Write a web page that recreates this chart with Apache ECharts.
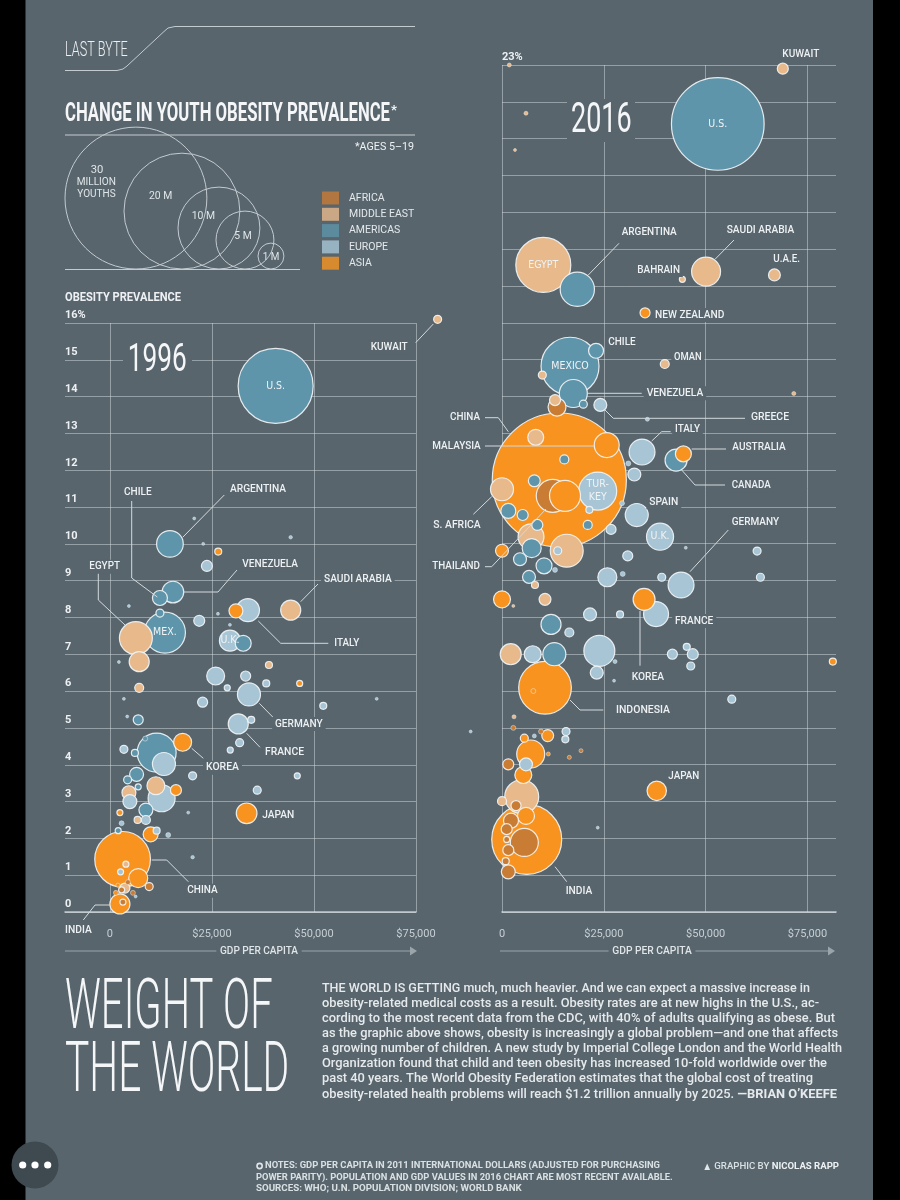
<!DOCTYPE html>
<html><head><meta charset="utf-8">
<script src="https://cdn.jsdelivr.net/npm/echarts@6/dist/echarts.min.js"></script>
<style>html,body{margin:0;padding:0;background:#58656d}#c{width:900px;height:1200px}</style>
</head><body><div id="c"></div>
<script>
// ---------- DATA ----------
const regionNames = ['AFRICA', 'MIDDLE EAST', 'AMERICAS', 'EUROPE', 'ASIA'];
const regionColors = ['#c97c34', '#e7b98b', '#5f95aa', '#a7c5d5', '#f7931e'];
const gdpTickValues = [0, 25000, 50000, 75000];
const sizeKeyValues = [30, 20, 10, 5, 1];

// [GDP per capita, obesity prevalence %, obese youths (millions), inner label]
const africa1996 = [[9630,0.69,0.095],[4410,0.81,0.037],[3190,0.27,0.054],[2870,0.60,0.054],[5640,0.52,0.037]];
const middleEast1996 = [[80300,16.10,0.095],[44300,8.20,0.60],[6370,7.44,1.62],[7180,6.80,0.60],[38970,6.71,0.073],[7180,6.09,0.12],[11270,3.43,0.48],[4660,3.24,0.29],[6790,2.50,0.073],[3920,1.30,0.054],[3680,0.65,0.15]];
const americas1996 = [[40610,14.29,8.39,'U.S.'],[14710,10.00,1.06],[15440,8.69,0.70],[12260,8.53,0.335],[13480,7.59,2.51,'MEX.'],[12260,8.12,0.095],[32670,7.30,0.38],[11450,4.33,2.27],[6940,5.22,0.15],[6130,4.32,0.073],[6540,3.74,0.29],[4340,3.59,0.095],[6940,3.40,0.054],[8820,2.77,0.29],[2030,2.21,0.054],[8650,4.71,0.037]];
const europe1996 = [[20660,10.69,0.013],[22870,10.00,0.013],[23770,9.40,0.18],[44290,10.18,0.018],[4660,8.31,0.013],[21890,7.91,0.18],[26470,8.10,0.013],[33820,8.20,0.79],[29410,7.80,0.013],[29410,7.37,0.66,'U.K.'],[2210,6.79,0.013],[25910,6.41,0.48],[33260,6.41,0.15],[28750,6.09,0.054],[38310,6.21,0.073],[34070,5.91,0.79],[3430,5.79,0.013],[22720,5.70,0.15],[65370,5.79,0.013],[52280,5.60,0.073],[4240,5.31,0.013],[31450,5.11,0.60],[34630,5.22,0.073],[31790,4.60,0.095],[29490,4.40,0.054],[13240,4.02,0.79],[3430,4.42,0.095],[20270,3.70,0.095],[45910,3.70,0.054],[12670,3.09,1.09],[4900,3.00,0.29],[36100,3.31,0.095],[19190,2.70,0.013],[8820,2.50,0.12],[2870,2.41,0.037],[11450,2.21,0.073],[14290,2.09,0.037],[20270,1.49,0.018],[2620,1.09,0.054],[6300,0.42,0.013]];
const asia1996 = [[26540,9.79,0.073],[30880,8.18,0.29],[46500,6.21,0.054],[17820,4.61,0.48],[16180,3.31,0.18],[33500,2.68,0.64],[2450,2.70,0.054],[9980,2.11,0.335],[3110,1.43,4.62],[6940,0.92,0.54],[2450,0.22,0.60],[1470,0.52,0.037],[1960,0.73,0.024]];

const africa2016 = [[13510,13.71,0.48],[12450,11.30,1.62],[2780,5.00,0.037],[9580,4.90,0.037],[19400,4.38,0.024],[16530,4.20,0.024],[1550,4.01,0.18],[3440,2.89,0.15],[2210,2.48,0.335],[5480,1.89,1.17],[1150,2.25,0.18],[1150,1.97,0.054],[1550,1.68,0.18],[910,1.38,0.073],[1550,1.09,0.29]];
const middleEast2016 = [[1790,23.0,0.024],[68940,22.9,0.18],[5890,21.69,0.024],[3190,20.69,0.013],[10140,17.57,4.51,'EGYPT'],[44280,17.18,0.054],[50100,17.39,1.25],[66880,17.30,0.21],[39960,14.88,0.12],[71640,14.08,0.024],[9900,14.58,0.095],[13020,13.90,0.18],[8280,12.89,0.38],[0,11.48,0.79],[7120,10.19,1.0],[15890,9.81,1.62],[8100,8.88,0.073],[10560,8.49,0.21],[2140,7.00,0.66],[2950,5.30,0.024],[4840,3.13,1.72],[0,3.01,0.12],[2780,8.31,0.013]];
const americas2016 = [[52980,21.40,12.8,'U.S.'],[18490,16.91,1.75],[23090,15.24,0.335],[16700,14.82,5.01,'MEXICO'],[17510,14.08,1.17],[19970,13.79,0.095],[42730,12.27,0.72],[15300,12.29,0.12],[7930,11.71,0.21],[1550,10.89,0.335],[5080,10.78,0.18],[8670,10.51,0.18],[21050,10.51,0.12],[7290,9.88,0.54],[4420,9.58,0.25],[10320,9.40,0.38],[6630,9.10,0.25],[12030,7.81,0.60],[12850,7.00,0.79]];
const europe2016 = [[24140,13.77,0.25],[35690,13.38,0.024],[34380,12.49,1.0],[31020,12.18,0.037],[32490,11.88,0.25],[23500,11.43,2.15,'TUR-\nKEY'],[29470,11.10,0.037],[33080,10.78,0.79],[26770,10.39,0.15],[38800,10.19,1.09,'U.K.'],[21440,10.92,0.073],[13680,9.81,0.095],[13020,9.29,0.037],[30870,9.67,0.15],[29640,9.18,0.037],[25860,9.09,0.54],[39220,9.09,0.095],[43960,8.88,1.0],[45120,9.89,0.013],[62630,9.80,0.095],[63440,9.09,0.095],[37820,8.09,0.93],[21610,8.08,0.25],[28980,8.08,0.073],[16530,7.59,0.12],[7540,7.00,0.43],[23900,7.09,1.43],[27750,6.80,0.024],[23260,6.50,0.25],[27510,6.28,0.013],[41830,7.00,0.15],[45360,7.20,0.073],[46840,7.00,0.18],[46340,6.68,0.095],[56410,5.78,0.095],[-7690,4.90,0.013],[15720,4.90,0.095],[15550,4.69,0.073],[5890,4.01,0.25],[23500,2.29,0.013],[7940,4.78,0.024]];
const asia2016 = [[35120,16.27,0.15],[14070,11.73,26.8],[25710,12.68,0.93],[44530,12.44,0.38],[15470,11.30,1.43],[0,9.81,0.25],[0,8.49,0.43],[34880,8.49,0.72],[81220,6.80,0.073],[10560,6.09,4.14],[7690,6.00,0.037],[5480,4.72,0.095],[11220,4.79,0.21],[7050,4.29,1.17],[11370,4.29,0.024],[5230,3.72,0.43],[37990,3.29,0.56],[5890,2.61,0.43],[6070,1.97,7.30]];

const bodyLines = [
 'THE WORLD IS GETTING much, much heavier. And we can expect a massive increase in',
 'obesity-related medical costs as a result. Obesity rates are at new highs in the U.S., ac-',
 'cording to the most recent data from the CDC, with 40% of adults qualifying as obese. But',
 'as the graphic above shows, obesity is increasingly a global problem\u2014and one that affects',
 'a growing number of children. A new study by Imperial College London and the World Health',
 'Organization found that child and teen obesity has increased 10-fold worldwide over the',
 'past 40 years. The World Obesity Federation estimates that the global cost of treating',
 'obesity-related health problems will reach $1.2 trillion annually by 2025. '
];
const bodyByline = '\u2014BRIAN O\u2019KEEFE';

// ---------- LAYOUT / HELPERS ----------
const BG = '#58656d';
const GRID = 'rgba(222,230,234,0.45)';
const SIZE_K = 25.9; // px diameter per sqrt(million)
const mctx = document.createElement('canvas').getContext('2d');
function tw(s, size, weight, fam) { mctx.font = weight + ' ' + size + 'px ' + fam; return mctx.measureText(s).width; }
function fit(s, x1, x2, yc, o) {
  o = o || {};
  const size = o.size || 10.5, weight = o.weight || 500, fam = o.family || 'Roboto';
  const sx = (x2 - x1) / tw(s, size, weight, fam);
  const pad = o.bg ? (o.pad || [1.5, 3]) : null;
  return {type: 'text', x: x1 - (pad ? pad[1] * sx : 0), y: yc, scaleX: sx, z: o.z || 60, silent: true,
    style: {text: s, fontSize: size, fontWeight: weight, fontFamily: fam, fill: o.fill || '#eef1f3',
      align: 'left', verticalAlign: 'middle', backgroundColor: o.bg || null, padding: pad || 0}};
}
function line(pts, o) {
  o = o || {};
  return {type: 'polyline', z: o.z || 55, silent: true, shape: {points: pts},
    style: {stroke: o.stroke || '#d3dadd', lineWidth: o.lw || 1, fill: null}};
}

function build(regions) {
  const items = [];
  regions.forEach(([arr, ci]) => arr.forEach(p => {
    const d = SIZE_K * Math.sqrt(p[2]);
    const it = {value: [p[0], p[1], p[2]], itemStyle: {color: regionColors[ci], borderWidth: d < 6 ? 0.5 : 1.2}};
    if (p[3]) it.label = {show: true, formatter: p[3]};
    items.push(it);
  }));
  items.sort((a, b) => b.value[2] - a.value[2]);
  return items;
}
const data1996 = build([[africa1996,0],[middleEast1996,1],[americas1996,2],[europe1996,3],[asia1996,4]]);
const data2016 = build([[africa2016,0],[middleEast2016,1],[americas2016,2],[europe2016,3],[asia2016,4]]);

const gdpFmt = v => v === 0 ? '0' : '$' + v.toLocaleString('en-US');
const axisX = (gi, min, max) => ({
  gridIndex: gi, type: 'value', min: min, max: max,
  splitLine: {show: false}, axisTick: {show: false},
  axisLine: {show: true, lineStyle: {color: 'rgba(225,232,236,0.75)', width: 1.6}},
  axisLabel: {customValues: gdpTickValues, formatter: gdpFmt, color: '#c6cfd4', fontSize: 11, fontFamily: 'Roboto', margin: 17}
});
const axisY = (gi, max, fmt) => ({
  gridIndex: gi, type: 'value', min: 0, max: max, interval: 1,
  splitLine: {show: true, lineStyle: {color: GRID, width: 1}},
  axisLine: {show: false}, axisTick: {show: false},
  axisLabel: {inside: true, margin: 0, verticalAlign: 'bottom', formatter: fmt, color: '#eef1f3',
    fontWeight: 'bold', fontSize: 11, fontFamily: 'Roboto', padding: [0, 0, 2, 0]}
});
const bubbleSeries = (gi, data) => ({
  type: 'scatter', xAxisIndex: gi, yAxisIndex: gi, data: data, clip: false, z: 3,
  symbolSize: v => Math.max(2.5, SIZE_K * Math.sqrt(v[2])),
  itemStyle: {borderColor: 'rgba(240,244,246,0.92)', opacity: 1},
  label: {show: false, position: 'inside', color: '#f0f3f5', fontSize: 10.5, fontWeight: 500,
    fontFamily: "'Liberation Sans Narrow','DejaVu Sans Condensed',Roboto,sans-serif", lineHeight: 13},
  emphasis: {disabled: true},
  markLine: {silent: true, z: 1, symbol: ['none', 'none'], label: {show: false}, animation: false,
    lineStyle: {type: 'solid', color: GRID, width: 1}, emphasis: {disabled: true},
    data: gdpTickValues.map(v => ({xAxis: v}))}
});

// ---------- GRAPHIC ----------
const g = [];
// header
g.push(line([[65,70.5],[117,70.5],[123,69],[127,66],[164,31.5],[168,28],[175,26.5],[415,26.5]], {stroke:'#c3cbd0'}));
g.push(fit('LAST BYTE', 65, 127.7, 50.5, {size: 21, weight: 300}));
g.push(fit('CHANGE IN YOUTH OBESITY PREVALENCE', 65, 390, 115, {size: 25, weight: 700, fill: '#f4f6f7'}));
g.push(fit('*', 391, 397, 111, {size: 12, weight: 700, fill: '#f4f6f7'}));
g.push(line([[65,135],[415,135]], {stroke:'#c3cbd0', lw:1.2}));
g.push(fit('*AGES 5\u201319', 355, 414, 147, {size: 11, weight: 400}));
// size key
let left = [65, 124, 178, 216, 258];
sizeKeyValues.forEach((v, i) => {
  const r = SIZE_K * Math.sqrt(v) / 2;
  g.push({type: 'circle', z: 20, silent: true, shape: {cx: left[i] + r, cy: 269 - r, r: r},
    style: {fill: null, stroke: '#c3cbd0', lineWidth: 1}});
});
g.push(line([[65,269.5],[300,269.5]], {stroke:'#c3cbd0'}));
g.push(fit('30', 90.7, 103.3, 170.7, {size: 10.5, weight: 400, fill: '#dfe5e8'}));
g.push(fit('MILLION', 76.7, 116, 182.7, {size: 10.5, weight: 400, fill: '#dfe5e8'}));
g.push(fit('YOUTHS', 77.3, 115.7, 194.3, {size: 10.5, weight: 400, fill: '#dfe5e8'}));
g.push(fit(sizeKeyValues[1] + ' M', 149, 172.3, 196.7, {size: 10.5, weight: 400, fill: '#dfe5e8'}));
g.push(fit(sizeKeyValues[2] + ' M', 191.7, 215, 216.7, {size: 10.5, weight: 400, fill: '#dfe5e8'}));
g.push(fit(sizeKeyValues[3] + ' M', 234.3, 251.7, 236.7, {size: 10.5, weight: 400, fill: '#dfe5e8'}));
g.push(fit(sizeKeyValues[4] + ' M', 262.7, 279.3, 257.3, {size: 10.5, weight: 400, fill: '#dfe5e8'}));
g.push(fit('OBESITY PREVALENCE', 65, 181, 297.5, {size: 12.5, weight: 700}));
// year labels
g.push({type: 'rect', z: 45, silent: true, shape: {x: 123, y: 341, width: 69, height: 39}, style: {fill: BG}});
g.push(fit('1996', 127.7, 186.7, 361, {size: 39, weight: 400, fill: '#f4f6f7'}));
g.push({type: 'rect', z: 45, silent: true, shape: {x: 567, y: 99, width: 68, height: 43}, style: {fill: BG}});
g.push(fit('2016', 571, 631.7, 121, {size: 42, weight: 400, fill: '#f4f6f7'}));

// annotations
const ann = [
 ['KUWAIT',370.7,407.7,347.7,[[415.7,342.7],[433.3,324]]],
 ['ARGENTINA',230,286,489.3,[[224.3,495],[182.7,537.3]]],
 ['CHILE',124,151.7,492.3,[[131.7,501],[131.7,578],[157.3,597]]],
 ['VENEZUELA',242.3,298,564.3,[[237,570],[218,592],[184,592]]],
 ['EGYPT',89.3,120,566.7,[[98.3,573],[98.3,600],[125,625]]],
 ['SAUDI ARABIA',324,391.7,579,[[318,584],[300.7,601.7]]],
 ['ITALY',334.3,359.3,643.3,[[258.3,621],[280.7,643.3],[328.3,643.3]]],
 ['GERMANY',275,322.7,724,[[259.3,703.3],[274,718.3]]],
 ['FRANCE',265,304,752.7,[[246.7,733.3],[260,747.3]]],
 ['KOREA',206,239,767.7,[[191.7,748.3],[203.3,758.3]]],
 ['JAPAN',262.3,294.3,815,null],
 ['CHINA',187.3,217.7,890.7,[[151.7,860],[166.7,860],[188.3,881.7]]],
 ['INDIA',65,91.7,930,[[83.3,920],[95,905],[110,905]]],
 ['KUWAIT',782.3,819.3,54,null],
 ['ARGENTINA',621.7,676.7,232.3,[[619,243.3],[588.3,275]]],
 ['SAUDI ARABIA',726.7,794.3,230,[[734,240],[715,259.3]]],
 ['BAHRAIN',637.3,680,270,null],
 ['U.A.E.',773.3,800,259.3,null],
 ['NEW ZEALAND',655,724.3,315,null],
 ['CHILE',608.3,635.7,342.3,null],
 ['OMAN',674,701.7,357.7,null],
 ['VENEZUELA',646.7,703.3,393.3,[[587.7,393.3],[641.7,393.3]]],
 ['GREECE',751,789,417.7,[[605,410],[613.3,418.3],[745,418.3]]],
 ['CHINA',450,480,417.7,[[485,417.7],[498.3,417.7],[508.3,431.7]]],
 ['MALAYSIA',432.3,480.7,446,[[485,446],[594,446]]],
 ['ITALY',675,700,429.3,[[651.7,441],[661.7,431.7],[670.7,431.7]]],
 ['AUSTRALIA',732.3,785.7,447.7,[[691.7,449],[726,449]]],
 ['CANADA',731.7,770.7,485.7,[[681.7,470],[695,485],[725,485]]],
 ['SPAIN',649.3,678.3,502.3,null],
 ['S. AFRICA',433.3,480.7,525,[[473.3,514.3],[491.7,496.7]]],
 ['GERMANY',731.7,779,522.3,[[728.3,530],[690,571.7]]],
 ['THAILAND',432.3,480,566.7,[[485,566.7],[491.7,566.7],[546,509]]],
 ['FRANCE',675,713.3,621,null],
 ['KOREA',631.7,664,677.3,[[640,611],[640,665.7]]],
 ['INDONESIA',616,670,710.7,[[570,700],[580,710],[603.3,710]]],
 ['JAPAN',668.3,699.3,776.7,null],
 ['INDIA',565.7,592.3,891,[[555,866.7],[566.7,881.7]]]
];
ann.forEach(a => {
  if (a[4]) g.push(line(a[4]));
  g.push(fit(a[0], a[1], a[2], a[3], {size: 10.5, weight: 500, bg: BG}));
});

// GDP arrows
[[65, 411, 220, 298], [500, 829, 612.3, 691.7]].forEach(a => {
  g.push(line([[a[0], 951], [a[1], 951]], {stroke: '#9aa5ab', lw: 1.2, z: 30}));
  g.push({type: 'polygon', z: 30, silent: true, shape: {points: [[a[1] - 1, 946.5], [a[1] + 6, 951], [a[1] - 1, 955.5]]}, style: {fill: '#9aa5ab'}});
  g.push(fit('GDP PER CAPITA', a[2], a[3], 951, {size: 11, weight: 500, fill: '#dfe5e8', bg: BG, pad: [1, 4]}));
});

// big title
g.push(fit('WEIGHT OF', 65, 272.7, 1010, {size: 70, weight: 300, fill: '#f4f6f7'}));
g.push(fit('THE WORLD', 65, 289.3, 1073, {size: 70, weight: 300, fill: '#f4f6f7'}));

// body text
const bodyEnds = [810, 819, 835, 838, 842, 827, 813, 837];
const bodyY = [989.3, 1004.3, 1019.3, 1034.3, 1049.3, 1064.3, 1079.3, 1094.5];
bodyLines.forEach((s, i) => {
  if (i < bodyLines.length - 1) {
    g.push(fit(s, 322, bodyEnds[i], bodyY[i], {size: 12.5, weight: 500, fill: '#e6eaec'}));
  } else {
    const w1 = tw(s, 12.5, 500, 'Roboto'), w2 = tw(bodyByline, 12.5, 700, 'Roboto');
    const sc = (bodyEnds[i] - 322) / (w1 + w2);
    g.push(fit(s, 322, 322 + w1 * sc, bodyY[i], {size: 12.5, weight: 500, fill: '#e6eaec'}));
    g.push(fit(bodyByline, 322 + w1 * sc, bodyEnds[i], bodyY[i], {size: 12.5, weight: 700, fill: '#e6eaec'}));
  }
});

// footnotes
g.push({type: 'circle', z: 60, silent: true, shape: {cx: 259.6, cy: 1166, r: 2.6}, style: {fill: null, stroke: '#e0e6e9', lineWidth: 1.6}});
g.push(fit('NOTES: GDP PER CAPITA IN 2011 INTERNATIONAL DOLLARS (ADJUSTED FOR PURCHASING', 265, 660, 1166, {size: 9, weight: 700, fill: '#d9e0e3'}));
g.push(fit('POWER PARITY). POPULATION AND GDP VALUES IN 2016 CHART ARE MOST RECENT AVAILABLE.', 256, 672.7, 1178, {size: 9, weight: 700, fill: '#d9e0e3'}));
g.push(fit('SOURCES: WHO; U.N. POPULATION DIVISION; WORLD BANK', 256, 521.7, 1189, {size: 9, weight: 700, fill: '#d9e0e3'}));
g.push({type: 'polygon', z: 60, silent: true, shape: {points: [[704.3, 1170], [707.2, 1163.5], [710.1, 1170]]}, style: {fill: '#e0e6e9'}});
g.push(fit('GRAPHIC BY', 714.3, 769.3, 1166.7, {size: 9, weight: 500, fill: '#d9e0e3'}));
g.push(fit('NICOLAS RAPP', 771.7, 839, 1166.7, {size: 9, weight: 700, fill: '#eef1f3'}));

// device frame
g.push({type: 'rect', z: 90, silent: true, shape: {x: 0, y: 0, width: 25.5, height: 1200}, style: {fill: '#000'}});
g.push({type: 'rect', z: 90, silent: true, shape: {x: 873, y: 0, width: 27, height: 1200}, style: {fill: '#000'}});
g.push({type: 'circle', z: 91, silent: true, shape: {cx: 35, cy: 1165, r: 23.5}, style: {fill: '#3e4950'}});
[22.7, 35, 47.7].forEach(x => g.push({type: 'circle', z: 92, silent: true, shape: {cx: x, cy: 1165, r: 3.6}, style: {fill: '#ffffff'}}));

// ---------- OPTION ----------
const option = {
  backgroundColor: BG,
  animation: false,
  textStyle: {fontFamily: 'Roboto'},
  legend: {
    data: regionNames, orient: 'vertical', left: 322, top: 191.5, padding: 0,
    itemWidth: 17, itemHeight: 13, itemGap: 3.3, icon: 'rect', selectedMode: false,
    textStyle: {color: '#e3e8eb', fontSize: 10.5, fontFamily: 'Roboto', padding: [0, 0, 0, 5]}
  },
  grid: [
    {left: 65, top: 323, width: 351, height: 589},
    {left: 502, top: 65, width: 334, height: 847}
  ],
  xAxis: [axisX(0, -11000, 75000), axisX(1, 0, 82000)],
  yAxis: [
    axisY(0, 16, v => v === 16 ? '16%' : String(v)),
    axisY(1, 23, v => v === 23 ? '23%' : '')
  ],
  series: [
    bubbleSeries(0, data1996),
    bubbleSeries(1, data2016)
  ].concat(regionNames.map((n, i) => ({type: 'scatter', name: n, data: [], xAxisIndex: 0, yAxisIndex: 0, itemStyle: {color: regionColors[i]}}))),
  graphic: {elements: g}
};
const chart = echarts.init(document.getElementById('c'), null, {renderer: 'canvas'});
chart.setOption(option);
</script></body></html>
